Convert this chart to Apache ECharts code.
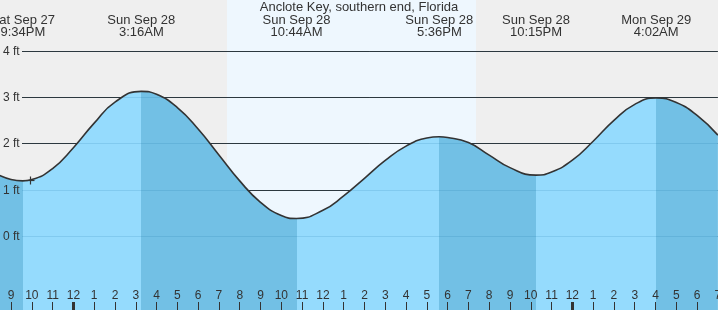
<!DOCTYPE html>
<html><head><meta charset="utf-8">
<script src="https://cdn.jsdelivr.net/npm/echarts@6/dist/echarts.min.js"></script>
<style>html,body{margin:0;padding:0;background:#efefef}#c{width:718px;height:310px}</style>
</head><body><div id="c"></div>
<script>
// ---- data (hours counted from Sun Sep 28 00:00) ----
const chartTitle = 'Anclote Key, southern end, Florida';
const hours   = [-4,-3,-2.433,-2,-1,0,1,2,3.267,4,5,6,7,8,9,10,10.733,12,13,14,15,16,17,17.6,18,19,20,21,22.25,23,24,25,26,27,28.033,29,30,31];
const heights = [1.43,1.236,1.205,1.232,1.47,1.92,2.45,2.905,3.136,3.071,2.787,2.325,1.765,1.204,0.742,0.458,0.393,0.57,0.88,1.26,1.645,1.955,2.13,2.155,2.14,2.03,1.76,1.49,1.328,1.396,1.65,2.06,2.51,2.855,2.991,2.896,2.615,2.192];
const eventHours = [-2.433, 3.267, 10.733, 17.6, 22.25, 28.033];
const eventDays  = ['Sat Sep 27','Sun Sep 28','Sun Sep 28','Sun Sep 28','Sun Sep 28','Mon Sep 29'];
const eventClock = ['9:34PM','3:16AM','10:44AM','5:36PM','10:15PM','4:02AM'];
const daylight   = [7.37, 19.38];
const yTicks     = [0, 1, 2, 3, 4];
const yTickLabels = ['0 ft','1 ft','2 ft','3 ft','4 ft'];
const midnights  = [0, 24];
const nowMark    = [-2.093, 1.22];

// ---- styles ----
const FONT = '"Liberation Sans", Arial, sans-serif';
const TXT = '#333';
const DARK_WATER = '#72c0e5';
const LIGHT_WATER = '#95dbfd';

const pieces = [];
pieces.push({lt: eventHours[0], color: DARK_WATER});
for (let i = 0; i < eventHours.length - 1; i++) {
  pieces.push({gte: eventHours[i], lt: eventHours[i+1], color: i % 2 === 0 ? LIGHT_WATER : DARK_WATER});
}
pieces.push({gte: eventHours[eventHours.length-1], color: DARK_WATER});

const tideData = hours.map((h, i) => [h, heights[i]]);

function hLine(color) {
  return function (params, api) {
    const y = Math.floor(api.coord([0, api.value(1)])[1]) + 0.5;
    const cs = params.coordSys;
    return {type: 'line', silent: true,
      shape: {x1: 22, y1: y, x2: cs.x + cs.width, y2: y},
      style: {stroke: color, lineWidth: 1}};
  };
}

const chart = echarts.init(document.getElementById('c'), null, {renderer: 'canvas'});
chart.setOption({
  animation: false,
  backgroundColor: '#efefef',
  title: {text: chartTitle, left: 'center', top: 1, padding: 0,
    textStyle: {fontSize: 13, fontWeight: 'normal', color: TXT, fontFamily: FONT}},
  grid: {left: -9.76, right: 0.1, top: 0, bottom: 0, containLabel: false, outerBoundsMode: 'none'},
  xAxis: {type: 'value', min: -4, max: 31, interval: 1, z: 10,
    axisLine: {show: false, onZero: false}, splitLine: {show: false},
    axisTick: {inside: true, length: 8, lineStyle: {color: TXT, width: 1}},
    axisLabel: {inside: true, margin: 14.5, verticalAlign: 'middle', interval: 0,
      showMinLabel: true, showMaxLabel: true, hideOverlap: false,
      fontSize: 12, fontFamily: FONT, color: TXT,
      formatter: function (v) { const h = ((Math.round(v) % 12) + 12) % 12; return h === 0 ? '12' : String(h); }}},
  yAxis: {type: 'value', min: -1.5815, max: 5.1068, show: false, splitLine: {show: false}},
  visualMap: {show: false, type: 'piecewise', dimension: 0, seriesIndex: 2, pieces: pieces},
  series: [
    {type: 'custom', name: 'day', z: 1, silent: true, data: [daylight],
      renderItem: function (params, api) {
        const a = api.coord([api.value(0), 0]);
        const b = api.coord([api.value(1), 0]);
        const cs = params.coordSys;
        return {type: 'rect', shape: {x: Math.round(a[0]), y: cs.y, width: Math.round(b[0]) - Math.round(a[0]), height: cs.height},
          style: {fill: '#eef7fe'}};
      }},
    {type: 'custom', name: 'grid-dark', z: 2, silent: true, data: yTicks.map(v => [0, v]),
      renderItem: hLine('#333')},
    {type: 'line', name: 'water', z: 3, silent: true, data: tideData, smooth: true, symbol: 'none',
      lineStyle: {width: 0}, areaStyle: {opacity: 1, origin: 'start'}},
    {type: 'custom', name: 'grid-light', z: 4, silent: true, data: yTicks.map(v => [0, v]),
      renderItem: hLine('rgba(0,90,150,0.13)')},
    {type: 'line', name: 'tide', z: 5, silent: true, data: tideData, smooth: true, symbol: 'none',
      lineStyle: {color: '#333', width: 1.6}},
    {type: 'custom', name: 'midnight', z: 6, silent: true, data: midnights.map(h => [h, 0]),
      renderItem: function (params, api) {
        const x = Math.round(api.coord([api.value(0), 0])[0]) - 1;
        const cs = params.coordSys;
        return {type: 'rect', shape: {x: x, y: cs.y + cs.height - 8, width: 3, height: 8}, style: {fill: TXT}};
      }},
    {type: 'custom', name: 'ylabels', z: 6, silent: true, data: yTicks.map((v, i) => [0, v, i]),
      renderItem: function (params, api) {
        const y = api.coord([0, api.value(1)])[1];
        return {type: 'text', x: 3, y: y,
          style: {text: yTickLabels[api.value(2)], fill: TXT, fontSize: 12, fontFamily: FONT, align: 'left', verticalAlign: 'middle'}};
      }},
    {type: 'custom', name: 'events', z: 6, silent: true, data: eventHours.map((h, i) => [h, 0, i]),
      renderItem: function (params, api) {
        const x = api.coord([api.value(0), 0])[0];
        const i = api.value(2);
        return {type: 'group', children: [
          {type: 'text', x: x, y: 20.5, style: {text: eventDays[i], fill: TXT, fontSize: 13, fontFamily: FONT, align: 'center', verticalAlign: 'middle'}},
          {type: 'text', x: x, y: 32, style: {text: eventClock[i], fill: TXT, fontSize: 13, fontFamily: FONT, align: 'center', verticalAlign: 'middle'}}
        ]};
      }},
    {type: 'custom', name: 'now', z: 6, silent: true, data: [nowMark],
      renderItem: function (params, api) {
        const p = api.coord([api.value(0), api.value(1)]);
        const x = Math.round(p[0]) + 0.5, y = Math.round(p[1]) + 0.5;
        return {type: 'group', children: [
          {type: 'line', shape: {x1: x - 4, y1: y, x2: x + 4, y2: y}, style: {stroke: '#333', lineWidth: 1.2}},
          {type: 'line', shape: {x1: x, y1: y - 4, x2: x, y2: y + 4}, style: {stroke: '#333', lineWidth: 1.2}}
        ]};
      }}
  ]
});
</script></body></html>
